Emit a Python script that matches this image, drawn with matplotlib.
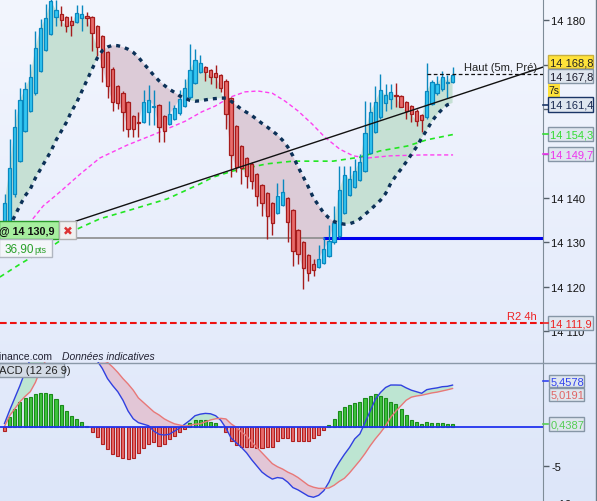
import numpy as np
import matplotlib.pyplot as plt
from matplotlib.patches import Rectangle
from matplotlib.colors import LinearSegmentedColormap

plt.rcParams['font.family'] = ['Liberation Sans', 'DejaVu Sans']

# ---------- données (bougies 1 par index) ----------
opens = [14134.8, 14134.8, 14140.9, 14148.3, 14155.1, 14159.6, 14163.6, 14168.6, 14173.3, 14176.9,
         14180.8, 14181.4, 14180.8, 14179.9, 14179.6, 14180.5, 14181.0, 14180.8, 14178.7, 14176.5,
         14172.9, 14169.1, 14165.2, 14163.6, 14161.6, 14158.5, 14157.2, 14157.1, 14159.4, 14160.6,
         14160.9, 14158.5, 14156.7, 14157.8, 14159.1, 14160.7, 14162.7, 14165.9, 14168.4, 14169.5,
         14168.8, 14168.2, 14167.7, 14166.4, 14162.5, 14156.2, 14151.7, 14149.0, 14147.7, 14145.4,
         14142.9, 14141.1, 14138.9, 14136.6, 14138.4, 14140.0, 14137.3, 14132.8, 14130.1, 14127.2,
         14125.1, 14124.5, 14125.4, 14126.9, 14130.0, 14131.4, 14136.6, 14140.7, 14142.5, 14144.1,
         14146.1, 14150.1, 14154.9, 14158.2, 14161.4, 14162.3, 14163.1, 14163.0, 14161.6, 14160.7,
         14159.6, 14158.7, 14158.2, 14161.2, 14163.6, 14164.5, 14166.0, 14166.1]
highs = [14140.9, 14153.3, 14160.0, 14164.8, 14166.1, 14170.2, 14177.6, 14180.3, 14183.7, 14184.8,
         14184.6, 14183.2, 14181.0, 14181.0, 14183.5, 14183.5, 14181.9, 14181.0, 14179.0, 14176.8,
         14173.2, 14169.4, 14165.5, 14164.1, 14161.9, 14158.8, 14159.4, 14164.3, 14165.5, 14164.3,
         14161.2, 14158.8, 14161.8, 14160.9, 14164.3, 14166.8, 14174.7, 14173.6, 14172.2, 14169.8,
         14169.1, 14170.0, 14168.0, 14166.7, 14162.8, 14156.5, 14152.0, 14149.3, 14148.0, 14145.7,
         14143.2, 14141.4, 14139.2, 14143.4, 14144.3, 14140.3, 14137.6, 14133.1, 14130.4, 14127.5,
         14126.3, 14129.4, 14131.2, 14133.9, 14138.2, 14147.2, 14147.2, 14147.2, 14148.8, 14149.9,
         14161.8, 14161.6, 14165.2, 14167.9, 14165.7, 14165.7, 14165.9, 14163.3, 14161.9, 14161.0,
         14160.0, 14159.0, 14170.4, 14166.5, 14167.5, 14168.6, 14167.7, 14169.5]
lows = [14133.9, 14134.4, 14140.2, 14148.0, 14154.8, 14159.3, 14163.3, 14168.3, 14173.0, 14176.6,
        14178.7, 14178.7, 14177.4, 14176.5, 14179.4, 14177.6, 14178.7, 14173.1, 14172.0, 14166.1,
        14162.5, 14159.6, 14160.0, 14155.1, 14153.7, 14153.7, 14153.7, 14156.8, 14156.4, 14156.4,
        14152.6, 14152.6, 14156.4, 14157.5, 14158.8, 14160.4, 14162.4, 14165.6, 14168.1, 14166.4,
        14165.7, 14164.8, 14163.9, 14155.5, 14144.7, 14145.9, 14143.2, 14142.3, 14142.0, 14138.2,
        14135.9, 14130.8, 14131.7, 14136.3, 14138.1, 14130.1, 14124.7, 14125.1, 14119.5, 14121.3,
        14122.4, 14124.2, 14125.1, 14126.6, 14129.7, 14131.1, 14136.3, 14140.4, 14142.2, 14143.8,
        14145.8, 14149.8, 14154.6, 14157.9, 14159.6, 14160.0, 14160.5, 14160.4, 14157.8, 14157.1,
        14156.2, 14154.9, 14157.9, 14160.9, 14163.3, 14164.2, 14162.5, 14165.8]
closes = [14138.9, 14146.8, 14156.0, 14162.1, 14164.5, 14167.3, 14173.8, 14178.3, 14180.5, 14184.4,
          14182.3, 14180.1, 14178.7, 14179.0, 14181.7, 14181.4, 14180.5, 14177.2, 14174.0, 14169.5,
          14165.2, 14161.6, 14161.4, 14159.4, 14155.5, 14155.5, 14157.0, 14161.6, 14162.1, 14160.8,
          14156.0, 14155.1, 14158.9, 14160.3, 14162.3, 14164.8, 14168.8, 14171.1, 14170.4, 14168.4,
          14167.3, 14167.3, 14164.8, 14158.9, 14149.7, 14147.0, 14146.8, 14145.0, 14143.8, 14140.5,
          14138.9, 14135.9, 14134.4, 14140.5, 14141.4, 14134.6, 14128.1, 14127.4, 14124.2, 14123.1,
          14123.8, 14126.3, 14128.5, 14130.3, 14134.4, 14141.8, 14145.2, 14144.3, 14146.1, 14148.1,
          14154.6, 14159.4, 14161.6, 14164.3, 14163.2, 14163.9, 14162.9, 14160.5, 14159.6, 14158.9,
          14157.3, 14157.6, 14164.1, 14166.1, 14165.7, 14167.3, 14166.2, 14167.8]

# courbe tendance (pointillés bleu marine)
curve = [14131.5, 14133.5, 14136.0, 14138.3, 14140.5, 14142.0, 14144.5, 14146.5, 14148.5, 14150.5,
         14153.0, 14155.0, 14157.0, 14159.5, 14161.5, 14164.0, 14166.5, 14169.0, 14171.5, 14173.2,
         14174.0, 14174.4, 14174.3, 14174.0, 14173.5, 14172.8, 14171.7, 14170.3, 14169.0, 14167.6,
         14166.4, 14165.4, 14164.5, 14163.8, 14163.0, 14162.5, 14162.0, 14161.8, 14161.9, 14162.1,
         14162.3, 14162.4, 14162.5, 14162.5, 14161.8, 14160.9, 14160.0, 14159.3, 14158.6, 14157.7,
         14156.8, 14156.0, 14155.1, 14154.2, 14153.0, 14151.5, 14149.5, 14147.0, 14144.8, 14142.5,
         14140.0, 14138.3, 14136.6, 14135.5, 14134.7, 14134.3, 14134.1, 14134.2, 14134.6, 14135.3,
         14136.3, 14137.3, 14138.4, 14139.5, 14141.0, 14143.3, 14145.0, 14146.5, 14148.1, 14149.8,
         14151.5, 14153.5, 14155.3, 14157.3, 14158.8, 14160.0, 14161.0, 14161.4]

# moyennes mobiles (points relevés)
ma_mag_x = [5.5, 7.5, 10.8, 14.7, 18.5, 23.8, 29.2, 35.1, 38.3, 40.9, 43.8, 46.7, 49.2, 52.0,
            54.5, 57.0, 59.7, 62.2, 65.1, 67.7, 70.4, 74.9, 81.3, 87.1]
ma_mag_y = [14135.3, 14138.2, 14141.4, 14145.4, 14149.0, 14151.9, 14154.4, 14157.3, 14159.4,
            14160.7, 14162.7, 14163.9, 14164.1, 14163.6, 14161.8, 14159.6, 14156.7, 14153.7,
            14151.0, 14149.5, 14149.0, 14149.5, 14149.7, 14149.7]
ma_grn_x = [-0.9, 3.0, 6.9, 9.8, 14.1, 18.5, 25.0, 31.6, 38.0, 40.5, 44.4, 51.0, 56.0, 63.8,
            69.0, 72.9, 78.2, 82.0, 87.1]
ma_grn_y = [14122.2, 14125.1, 14127.8, 14129.6, 14133.0, 14135.3, 14137.5, 14139.8, 14143.2,
            14144.7, 14146.1, 14147.7, 14148.3, 14148.3, 14149.2, 14150.6, 14151.7, 14153.1,
            14154.3]

trend_x = [13.9, 104.6]
trend_y = [14134.8, 14169.5]

entry_price = 14130.9
entry_split = 61.8
haut_price = 14167.9
haut_start = 82
r2_price = 14111.9
price_ticks = [14110, 14120, 14130, 14140, 14150, 14160, 14170, 14180]
hidden_ticks = [14150, 14160, 14170]   # masqués par les étiquettes

# MACD (12 26 9)
macd_hist = [-0.5, 1.29, 2.37, 3.32, 3.75, 3.97, 4.31, 4.44, 4.44, 4.31,
             3.66, 2.89, 2.16, 1.51, 1.08, 0.73, 0.22, -0.65, -1.29, -2.16,
             -2.80, -3.45, -3.66, -4.01, -4.09, -4.01, -3.32, -2.72, -2.16, -1.85,
             -2.37, -2.16, -1.51, -1.16, -0.65, -0.2, 0.56, 0.99, 0.95, 0.95,
             0.65, 0.56, 0.05, -0.65, -1.72, -2.28, -2.50, -2.59, -2.59, -2.72,
             -2.67, -2.59, -2.50, -1.72, -1.42, -1.38, -1.72, -1.72, -1.72, -1.72,
             -1.42, -0.99, -0.30, 0.30, 1.08, 2.07, 2.59, 2.89, 3.15, 3.23,
             3.79, 4.01, 4.31, 4.09, 3.79, 3.23, 3.02, 2.37, 1.64, 0.99,
             0.65, 0.39, 0.65, 0.56, 0.56, 0.56, 0.43, 0.44]
macd_line = [0.5, 2.2, 3.8, 5.4, 7.2, 8.8, 10.2, 11.3, 12.2, 12.8,
             13.0, 12.9, 12.5, 11.9, 11.0, 10.0, 9.2, 8.8, 8.6, 7.6,
             6.3, 5.4, 4.6, 3.5, 2.1, 1.1, 0.6, 0.4, 0.2, -0.5,
             -0.9, -1.0, -0.9, -0.5, -0.1, 0.4, 0.9, 1.5, 1.7, 1.8,
             1.75, 1.5, 0.9, -0.1, -1.4, -2.0, -2.6, -3.3, -4.2, -5.0,
             -5.8, -6.3, -6.7, -6.5, -6.6, -7.1, -7.8, -8.1, -8.5, -8.9,
             -9.05, -8.8, -8.2, -7.1, -5.6, -4.5, -3.5, -2.6, -1.5, -0.86,
             0.6, 2.1, 3.6, 4.5, 5.15, 5.47, 5.47, 5.45, 5.1, 4.8,
             4.6, 4.4, 4.87, 5.0, 5.1, 5.25, 5.3, 5.46]
macd_signal = [0.1, 1.5, 2.4, 3.3, 4.0, 4.6, 5.8, 7.5, 8.6, 9.4,
               10.0, 10.4, 10.6, 10.6, 10.4, 10.1, 9.7, 9.3, 9.0, 8.7,
               8.4, 7.8, 7.1, 6.3, 5.6, 4.8, 3.8, 3.2, 2.6, 2.0,
               1.6, 1.1, 0.75, 0.45, 0.3, 0.15, 0.25, 0.4, 0.45, 0.7,
               0.95, 1.1, 1.16, 1.08, 0.45, 0.0, -0.6, -1.1, -1.9, -2.6,
               -3.3, -4.0, -4.7, -5.1, -5.4, -5.8, -6.1, -6.5, -7.0, -7.5,
               -7.75, -7.9, -7.9, -7.85, -7.5, -7.0, -6.6, -5.9, -5.1, -4.3,
               -3.4, -2.4, -1.5, -0.7, 0.2, 1.3, 2.1, 2.8, 3.5, 3.9,
               4.05, 4.15, 4.3, 4.45, 4.55, 4.7, 4.85, 5.02]


def fmt_price(v):
    return f"{int(v) // 1000} {int(v) % 1000:03d}"


# ---------- figure ----------
W, H = 597, 502
fig = plt.figure(figsize=(W / 100, H / 100), dpi=100)

bg = fig.add_axes([0, 0, 1, 1], zorder=-10)
cmap_bg = LinearSegmentedColormap.from_list('bg', ['#dde6f9', '#f3f6fe'])
bg.imshow(np.linspace(0, 1, 256).reshape(-1, 1), aspect='auto', cmap=cmap_bg,
          origin='lower', extent=[0, 1, 0, 1])
bg.axis('off')

split = 363 / H
xr = 543 / W
ax = fig.add_axes([0, 1 - split, xr, split])
ax2 = fig.add_axes([0, 0, xr, 1 - split])
for a in (ax, ax2):
    a.patch.set_alpha(0)
    for s in ('top', 'left', 'bottom'):
        a.spines[s].set_visible(False)
    a.spines['right'].set_color('#7f8c98')
    a.set_xticks([])
    a.yaxis.tick_right()
    a.tick_params(axis='y', direction='out', length=4, width=1, color='#55606a',
                  labelsize=8, pad=2, labelcolor='#111111')

xmin, xmax = -4.5 / 5.15, (543 - 4.5) / 5.15
o = np.array(opens)
h = np.array(highs)
l = np.array(lows)
c = np.array(closes)
cv = np.array(curve)
idx = np.arange(len(o))
up = c >= o

# remplissage entre courbe et prix
ax.fill_between(idx, cv, c, where=c >= cv, interpolate=True, color='#c6e0d4', lw=0, zorder=1)
ax.fill_between(idx, cv, c, where=c < cv, interpolate=True, color='#dccbd7', lw=0, zorder=1)

ax.plot(ma_mag_x, ma_mag_y, color='#ff3ff0', lw=1, ls=(0, (3, 2)), zorder=2)
ax.plot(ma_grn_x, ma_grn_y, color='#22e622', lw=1.2, ls=(0, (3, 2.5)), zorder=2)

# bougies
wick_col = np.where(up, '#0a88bf', '#a51c1c')
body_col = np.where(up, '#33c6f2', '#e86b6b')
edge_col = np.where(up, '#0a88bf', '#a51c1c')
ax.vlines(idx, l, h, colors=wick_col, lw=1, zorder=3)
ax.bar(idx, np.maximum(np.abs(c - o), 0.12), bottom=np.minimum(o, c), width=0.64,
       color=body_col, edgecolor=edge_col, linewidth=0.9, zorder=4)

ax.plot(idx, cv, color='#0c3158', lw=2.4, ls=(0, (1.2, 1.5)), zorder=5)
ax.plot(trend_x, trend_y, color='#111111', lw=1, zorder=6)

ax.hlines(entry_price, xmin, entry_split, color='#8c8c8c', lw=1.2, zorder=2)
ax.hlines(entry_price, entry_split, xmax, color='#0000ee', lw=2.2, zorder=2)
ax.axhline(r2_price, color='#ee1111', lw=1.5, ls=(0, (3.2, 1.6)), zorder=2)
ax.hlines(haut_price, haut_start, xmax, color='#111111', lw=0.9, ls=(0, (3, 2)), zorder=6)

ax.set_xlim(xmin, xmax)
ax.set_ylim(14140 - 164 / 4.44, 14140 + 199 / 4.44)
ax.set_yticks(price_ticks)
ax.set_yticklabels(['' if v in hidden_ticks else fmt_price(v) for v in price_ticks])

# MACD
hist = np.array(macd_hist)
ml = np.array(macd_line)
ms = np.array(macd_signal)
ax2.fill_between(idx, ml, ms, where=ml >= ms, interpolate=True, color='#bde5d2', lw=0, zorder=1)
ax2.fill_between(idx, ml, ms, where=ml < ms, interpolate=True, color='#e2c6d6', lw=0, zorder=1)
ax2.bar(idx, hist, width=0.6, color=np.where(hist >= 0, '#3dc43d', '#e86b6b'),
        edgecolor=np.where(hist >= 0, '#1b8a1b', '#b02020'), linewidth=0.8, zorder=2)
ax2.plot(idx, ml, color='#3040e0', lw=1, zorder=3)
ax2.plot(idx, ms, color='#e87878', lw=1, zorder=3)
ax2.axhline(0, color='#2233ee', lw=1.3, zorder=4)
ax2.set_xlim(xmin, xmax)
ax2.set_ylim(-73.7 / 7.73, 65.3 / 7.73)
ax2.set_yticks([-5])
ax2.set_yticklabels(['-5'])

# ---------- étiquettes (coordonnées pixels) ----------
ov = fig.add_axes([0, 0, 1, 1], zorder=20)
ov.set_xlim(0, W)
ov.set_ylim(H, 0)
ov.axis('off')
ov.patch.set_alpha(0)


def box(x, y, w, hh, fc, ec, lw=1):
    ov.add_patch(Rectangle((x, y), w, hh, fc=fc, ec=ec, lw=lw))


def side_label(y, hh, txt, col, fc='#dfe6ef', ec='#8696a6', x=548, w=45, tick=None):
    box(x, y, w, hh, fc, ec)
    ov.text(x + 2, y + hh / 2 + 0.5, txt, color=col, fontsize=8, va='center', ha='left')
    if tick:
        ov.plot([543, 548], [y + hh / 2, y + hh / 2], color=tick, lw=1.2)


ov.plot([0, W], [363.5, 363.5], color='#8a98a8', lw=1)
ov.plot([595.5, 595.5], [0, H], color='#6f7c88', lw=1)

side_label(56, 13, fmt_price(14168) + ',8', '#222222', fc='#ffe23a', ec='#c8b040')
side_label(69.5, 14, fmt_price(14167) + ',8', '#1a1a2a')
box(548, 84.5, 12, 13, '#ffe23a', 'none')
ov.text(554, 91.5, '7s', fontsize=7.5, ha='center', va='center', color='#222222')
side_label(98, 15, fmt_price(14161) + ',4', '#1a2a50', ec='#1a3566', tick='#1a3566')
side_label(128, 14, fmt_price(14154) + ',3', '#33dd33', tick='#33dd33')
side_label(148, 14, fmt_price(14149) + ',7', '#ee33ee', tick='#ee33ee')
side_label(317, 14, fmt_price(14111) + ',9', '#ee2222', tick='#ee2222')
side_label(376, 12, '5,4578', '#3344ee', x=549, w=35, tick='#3344ee')
side_label(389, 13, '5,0191', '#e06666', x=549, w=35)
side_label(418, 14, '0,4387', '#55cc55', x=549, w=35, tick='#55cc55')
ov.text(556, 505, '-10', fontsize=8, va='center', color='#111111')

ov.text(537, 68, 'Haut (5m, Pré)', fontsize=8, ha='right', va='center', color='#222222')
ov.text(537, 317, 'R2 4h', fontsize=8, ha='right', va='center', color='#ee2222')

# ordre en cours
box(-1, 222, 60, 18, '#a6ee9e', '#2a9a2a')
ov.text(-1, 231.5, '@ 14 130,9', fontsize=7.8, fontweight='bold', va='center', color='#111111')
box(59, 222, 17, 18, '#f0f0f0', '#b0b0b0')
ov.text(67.5, 231.5, '✖', fontsize=8.5, ha='center', va='center', color='#dd3333',
        family=['DejaVu Sans'])
box(-1, 240, 53, 18, '#f4f6fa', '#b0b6c0')
ov.text(5, 249.5, '36,90', fontsize=8.5, va='center', color='#2aa02a')
ov.text(34, 250.5, 'pts', fontsize=6.5, va='center', color='#2aa02a')

ov.text(-3, 357, 'finance.com', fontsize=7.5, va='center', color='#222233')
ov.text(62, 357, 'Données indicatives', fontsize=7.5, style='italic', va='center', color='#222233')

box(-1, 364, 65, 14, '#d3dbe6', '#8d99a6')
ov.text(-9.5, 371.5, 'MACD (12 26 9)', fontsize=8, va='center', color='#222222')

fig.savefig('out.png', dpi=100)
